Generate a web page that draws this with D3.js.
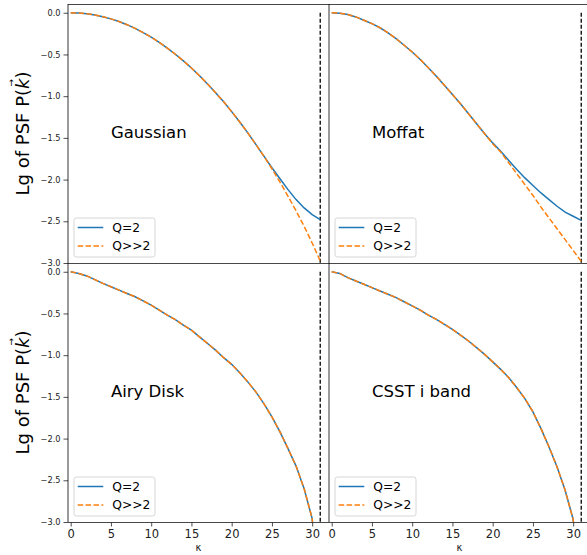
<!DOCTYPE html>
<html>
<head>
<meta charset="utf-8">
<script src="https://cdn.jsdelivr.net/npm/d3@7"></script>
<style>
  html, body { margin: 0; padding: 0; background: #fff; }
  svg { display: block; font-family: "DejaVu Sans", sans-serif; }
</style>
</head>
<body>
<svg id="chart" width="587" height="555"></svg>
<script>
// Wavenumber grid shared by every curve
const kGrid = [0,1,2,3,4,5,6,7,8,9,10,11,12,13,14,15,16,17,18,19,20,21,22,23,24,25,26,27,28,29,30,31];

// Gaussian PSF, log10 of the normalised power
const gaussQ2   = [0,-0.003,-0.012,-0.026,-0.047,-0.073,-0.105,-0.143,-0.188,-0.238,-0.293,-0.355,-0.423,-0.497,-0.577,-0.663,-0.755,-0.853,-0.958,-1.068,-1.185,-1.309,-1.440,-1.578,-1.718,-1.858,-1.990,-2.120,-2.240,-2.340,-2.420,-2.480];
const gaussQinf = [0,-0.003,-0.012,-0.026,-0.047,-0.073,-0.105,-0.143,-0.188,-0.238,-0.293,-0.355,-0.423,-0.497,-0.577,-0.663,-0.755,-0.853,-0.958,-1.068,-1.185,-1.309,-1.440,-1.578,-1.720,-1.870,-2.030,-2.200,-2.375,-2.560,-2.760,-2.975];

// Moffat PSF
const moffatQ2   = [0,-0.005,-0.020,-0.050,-0.090,-0.130,-0.180,-0.240,-0.310,-0.390,-0.470,-0.560,-0.660,-0.760,-0.870,-0.980,-1.090,-1.210,-1.330,-1.450,-1.560,-1.660,-1.770,-1.880,-1.980,-2.070,-2.160,-2.240,-2.320,-2.390,-2.440,-2.490];
const moffatQinf = [0,-0.005,-0.020,-0.050,-0.090,-0.130,-0.180,-0.240,-0.310,-0.390,-0.470,-0.560,-0.660,-0.760,-0.870,-0.980,-1.090,-1.210,-1.330,-1.450,-1.570,-1.670,-1.800,-1.930,-2.060,-2.190,-2.330,-2.460,-2.590,-2.720,-2.850,-2.980];

// Airy disk PSF
const airyQ2   = [0,-0.020,-0.050,-0.095,-0.140,-0.180,-0.220,-0.260,-0.300,-0.350,-0.400,-0.460,-0.520,-0.575,-0.640,-0.700,-0.780,-0.860,-0.940,-1.030,-1.110,-1.210,-1.320,-1.440,-1.580,-1.740,-1.920,-2.120,-2.330,-2.600,-2.960,-4.200];
const airyQinf = [0,-0.020,-0.050,-0.095,-0.140,-0.180,-0.220,-0.260,-0.300,-0.350,-0.400,-0.460,-0.520,-0.575,-0.640,-0.700,-0.780,-0.860,-0.940,-1.030,-1.110,-1.210,-1.320,-1.440,-1.580,-1.740,-1.920,-2.120,-2.330,-2.600,-2.960,-4.200];

// CSST i-band PSF
const csstQ2   = [0,-0.020,-0.070,-0.110,-0.150,-0.190,-0.230,-0.270,-0.310,-0.360,-0.410,-0.460,-0.520,-0.570,-0.630,-0.690,-0.760,-0.830,-0.910,-0.990,-1.080,-1.170,-1.270,-1.390,-1.520,-1.680,-1.880,-2.100,-2.340,-2.620,-2.970,-4.200];
const csstQinf = [0,-0.020,-0.070,-0.110,-0.150,-0.190,-0.230,-0.270,-0.310,-0.360,-0.410,-0.460,-0.520,-0.570,-0.630,-0.690,-0.760,-0.830,-0.910,-0.990,-1.080,-1.170,-1.270,-1.390,-1.520,-1.680,-1.880,-2.100,-2.340,-2.620,-2.970,-4.200];

const panelNames   = ["Gaussian", "Moffat", "Airy Disk", "CSST i band"];
const seriesLabels = ["Q=2", "Q>>2"];
const xTickValues  = [0, 5, 10, 15, 20, 25, 30];
const yTickValues  = [0, -0.5, -1, -1.5, -2, -2.5, -3];
const nyquistK     = 31;
const titleAnchor  = [5, -1.5];

const panels = [
  { name: panelNames[0], q2: gaussQ2,  qinf: gaussQinf,  col: 0, row: 0 },
  { name: panelNames[1], q2: moffatQ2, qinf: moffatQinf, col: 1, row: 0 },
  { name: panelNames[2], q2: airyQ2,   qinf: airyQinf,   col: 0, row: 1 },
  { name: panelNames[3], q2: csstQ2,   qinf: csstQinf,   col: 1, row: 1 }
];

const blue = "#1f77b4", orange = "#ff7f0e";
const svg = d3.select("#chart");

// grid geometry
const colX = [68, 329], panelW = 261;
const rowY = [4, 263],  panelH = 259;

const fmtY = d => d3.format(".1f")(d).replace("-", "\u2212");

panels.forEach((p, i) => {
  const x0 = colX[p.col], y0 = rowY[p.row];
  const x = d3.scaleLinear().domain([-0.335, 32.09]).range([x0, x0 + panelW]);
  const y = d3.scaleLinear().domain([-3, 0.105]).range([y0 + panelH, y0]);

  const clipId = "clip" + i;
  svg.append("clipPath").attr("id", clipId)
    .append("rect").attr("x", x0).attr("y", y0).attr("width", panelW).attr("height", panelH);

  const g = svg.append("g");
  const plot = g.append("g").attr("clip-path", `url(#${clipId})`);

  const line = d3.line().x((d, j) => x(kGrid[j])).y(d => y(d));

  // Nyquist limit
  plot.append("line")
    .attr("x1", x(nyquistK)).attr("x2", x(nyquistK))
    .attr("y1", y(0)).attr("y2", y(-3))
    .attr("stroke", "#000").attr("stroke-width", 1.3)
    .attr("stroke-dasharray", "4,2");

  plot.append("path").datum(p.q2).attr("d", line)
    .attr("fill", "none").attr("stroke", blue).attr("stroke-width", 1.5);
  plot.append("path").datum(p.qinf).attr("d", line)
    .attr("fill", "none").attr("stroke", orange).attr("stroke-width", 1.5)
    .attr("stroke-dasharray", "5.5,2.4");

  // panel label
  g.append("text")
    .attr("x", x(titleAnchor[0])).attr("y", y(titleAnchor[1]))
    .attr("font-size", 16.5).attr("fill", "#000")
    .text(p.name);

  // y axis (left column only)
  if (p.col === 0) {
    const yAxis = d3.axisLeft(y).tickValues(yTickValues).tickFormat(fmtY)
      .tickSize(4.5).tickPadding(3);
    const ga = g.append("g").attr("transform", `translate(${x0},0)`).call(yAxis);
    ga.select(".domain").remove();
    ga.selectAll(".tick line").attr("stroke", "#222").attr("stroke-width", 0.8);
    ga.selectAll(".tick text").attr("font-size", 8.2).attr("fill", "#222")
      .attr("font-family", "DejaVu Sans");
  }

  // x axis (bottom row only)
  if (p.row === 1) {
    const xAxis = d3.axisBottom(x).tickValues(xTickValues).tickFormat(d3.format("d"))
      .tickSize(4.5).tickPadding(3);
    const ga = g.append("g").attr("transform", `translate(0,${y0 + panelH})`).call(xAxis);
    ga.select(".domain").remove();
    ga.selectAll(".tick line").attr("stroke", "#222").attr("stroke-width", 0.8);
    ga.selectAll(".tick text").attr("font-size", 11.5).attr("fill", "#222")
      .attr("font-family", "DejaVu Sans");
    g.append("text")
      .attr("x", x0 + panelW / 2).attr("y", 551)
      .attr("text-anchor", "middle").attr("font-size", 10).attr("fill", "#222")
      .text("\u03ba");
  }

  // legend
  const lx = x0 + 6, ly = y0 + panelH - 45;
  const leg = g.append("g").attr("transform", `translate(${lx},${ly})`);
  leg.append("rect").attr("x", 0).attr("y", 0).attr("width", 81).attr("height", 39)
    .attr("rx", 2.5).attr("fill", "#fff").attr("fill-opacity", 0.8)
    .attr("stroke", "#d6d6d6").attr("stroke-width", 1);
  seriesLabels.forEach((lab, j) => {
    const ry = 9.5 + j * 18.5;
    leg.append("line").attr("x1", 3.7).attr("x2", 29.3).attr("y1", ry).attr("y2", ry)
      .attr("stroke", j === 0 ? blue : orange).attr("stroke-width", 1.5)
      .attr("stroke-dasharray", j === 0 ? null : "5.5,2.4");
    leg.append("text").attr("x", 38.3).attr("y", ry + 4.4)
      .attr("font-size", 12.3).attr("fill", "#000").text(lab);
  });
});

// axes frames: horizontal edges crisp and dark, vertical edges thin
const frame = svg.append("g").attr("fill", "none");
[rowY[0], rowY[1], rowY[1] + panelH].forEach(yy => {
  frame.append("line").attr("x1", colX[0]).attr("x2", colX[1] + panelW)
    .attr("y1", yy + 0.5).attr("y2", yy + 0.5)
    .attr("stroke", "#333").attr("stroke-width", 0.9);
});
[colX[0], colX[1], colX[1] + panelW].forEach(xx => {
  frame.append("line").attr("x1", xx).attr("x2", xx)
    .attr("y1", rowY[0]).attr("y2", rowY[1] + panelH)
    .attr("stroke", "#000").attr("stroke-width", 0.8);
});

// shared y label for each row
[0, 1].forEach(r => {
  const cy = rowY[r] + panelH / 2;
  const lg = svg.append("g").attr("transform", `translate(29,${cy}) rotate(-90)`);
  const t = lg.append("text").attr("text-anchor", "middle").attr("font-size", 18).attr("fill", "#000");
  t.append("tspan").text("Lg of PSF P(");
  t.append("tspan").attr("font-style", "italic").text("k");
  t.append("tspan").text(")");
  const idx = "Lg of PSF P(".length;
  const ext = t.node().getExtentOfChar(idx);
  lg.append("text")
    .attr("x", ext.x + ext.width / 2 + 1).attr("y", ext.y + 1.5)
    .attr("text-anchor", "middle").attr("font-size", 9).attr("fill", "#000")
    .text("\u2192");
});
</script>
</body>
</html>
